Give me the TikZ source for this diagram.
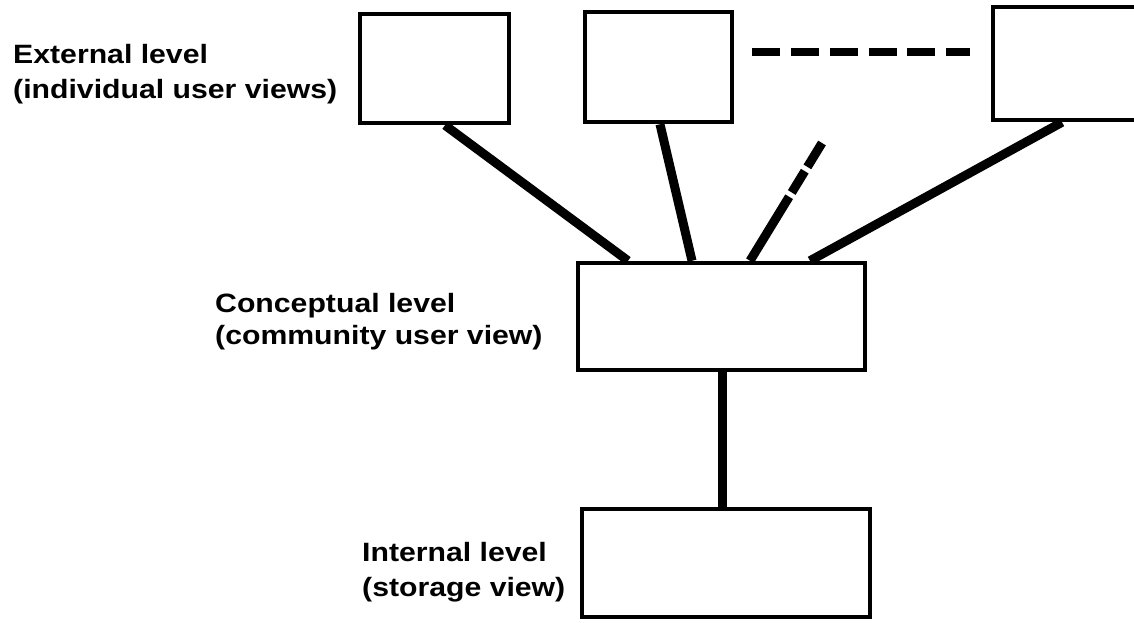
\documentclass[tikz,border=0pt]{standalone}
\usepackage{fontspec}
\newfontfamily\lblfont[FakeStretch=1.14]{Liberation Sans Bold}
\usetikzlibrary{calc}
\begin{document}
\begin{tikzpicture}[x=1pt,y=-1pt,
  levelbox/.style={draw=black,line width=4.5pt,fill=white,inner sep=0pt},
  link/.style={line width=9pt},
  lvltext/.style={font=\lblfont\fontsize{26.5}{35}\selectfont,align=left,
    anchor=north west,inner sep=0pt}]
\useasboundingbox (0,0) rectangle (1134,622);
\clip (0,0) rectangle (1134,622);

% external views
\node[levelbox,minimum width=149pt,minimum height=109pt] (b1) at (434.5,68.5) {};
\node[levelbox,minimum width=147pt,minimum height=110pt] (b2) at (658.5,67) {};
\node[levelbox,minimum width=147pt,minimum height=113pt] (b3) at (1066.5,63.5) {};
% conceptual and internal levels
\node[levelbox,minimum width=287pt,minimum height=107pt] (conc) at (721.5,316.5) {};
\node[levelbox,minimum width=288pt,minimum height=108pt] (intl) at (726,563) {};

% labels
\node[lvltext] (ext) at (13,44) {External level\\(individual user views)};
\node[lvltext,font=\lblfont\fontsize{26.5}{32}\selectfont] (con) at (215,293)
  {Conceptual level\\(community user view)};
\node[lvltext] (int) at (362,542) {Internal level\\(storage view)};

% connectors from the external views
\draw[link] ([xshift=10.5pt]b1.south) -- ([xshift=-93.5pt]conc.north);
\draw[link] ([xshift=1.5pt]b2.south) -- ([xshift=-29.5pt]conc.north);
\draw[link] ([xshift=-4.5pt]b3.south) -- ([xshift=88.5pt]conc.north);
% further views, indicated only
\coordinate (more) at (822,143);
\draw[link,dash pattern=on 28pt off 5pt on 25pt off 5pt on 200pt]
  (more) -- ([xshift=28.5pt]conc.north);
\coordinate (d1) at ($(b2.east)+(18,-15)$);
\coordinate (d2) at ($(b3.west |- d1)+(-21,0)$);
\draw[line width=8pt,dash pattern=on 28pt off 10.8pt] (d1) -- (d2);

% conceptual to internal
\draw[link] ([xshift=0.5pt]conc.south) -- ([xshift=0.5pt]conc.south |- intl.north);
\end{tikzpicture}
\end{document}
